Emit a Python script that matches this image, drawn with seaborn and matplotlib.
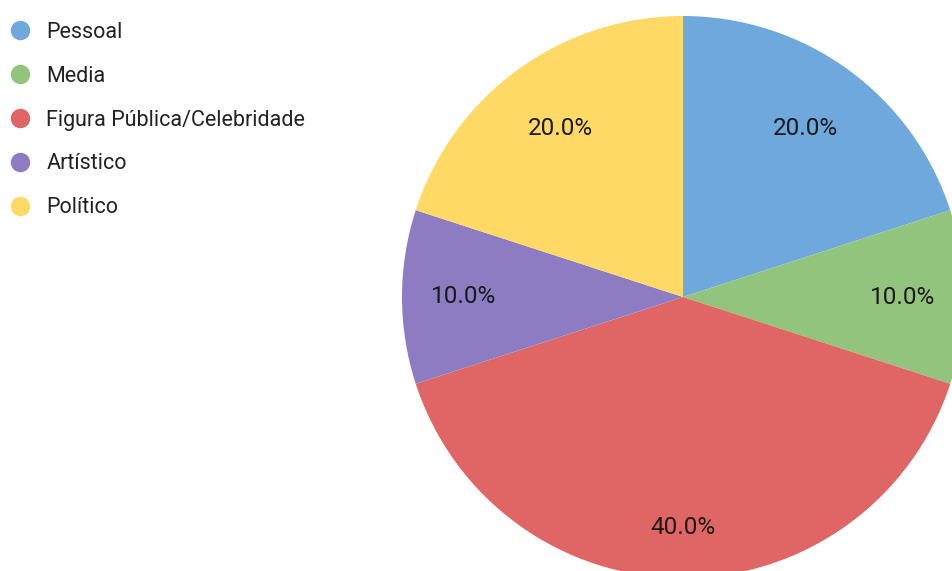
import matplotlib
matplotlib.use("Agg")
import numpy as np
import matplotlib.pyplot as plt
from matplotlib.lines import Line2D
import seaborn as sns

categories = ["Pessoal", "Media", "Figura Pública/Celebridade", "Artístico", "Político"]
values = [20, 10, 40, 10, 20]
colors = ["#6fa8dc", "#93c47d", "#e06666", "#8e7cc3", "#ffd966"]
label_dist = [0.74, 0.78, 0.82, 0.78, 0.74]

sns.set_theme(style="white")
plt.rcParams["font.family"] = ["Roboto", "DejaVu Sans"]

W, H = 952, 571
fig = plt.figure(figsize=(W / 100, H / 100), dpi=100)
fig.patch.set_facecolor("white")

cx, cy, r = 683, 297, 281
ax = fig.add_axes([(cx - r) / W, (H - cy - r) / H, 2 * r / W, 2 * r / H])
palette = sns.color_palette(colors)
wedges, texts, autotexts = ax.pie(
    values, colors=palette, startangle=90, counterclock=False,
    autopct="%.1f%%", pctdistance=0.76, radius=1,
    wedgeprops=dict(linewidth=0),
    textprops=dict(fontsize=17.5, color="#1a1a1a"))
for w, t, d in zip(wedges, autotexts, label_dist):
    ang = np.deg2rad((w.theta1 + w.theta2) / 2)
    t.set_position((d * np.cos(ang), d * np.sin(ang)))
ax.set_xlim(-1, 1)
ax.set_ylim(-1, 1)
ax.set_axis_off()

handles = [Line2D([], [], marker="o", linestyle="", markersize=14,
                  markerfacecolor=c, markeredgewidth=0) for c in colors]
leg = fig.legend(handles, categories, loc="upper left",
                 bbox_to_anchor=(7 / W, 1 - 22 / H), frameon=False,
                 borderaxespad=0, borderpad=0, handlelength=1.2,
                 handletextpad=0.62, labelspacing=1.06, fontsize=15.5)
for t in leg.get_texts():
    t.set_color("#222222")

fig.savefig("out.png", dpi=100)
